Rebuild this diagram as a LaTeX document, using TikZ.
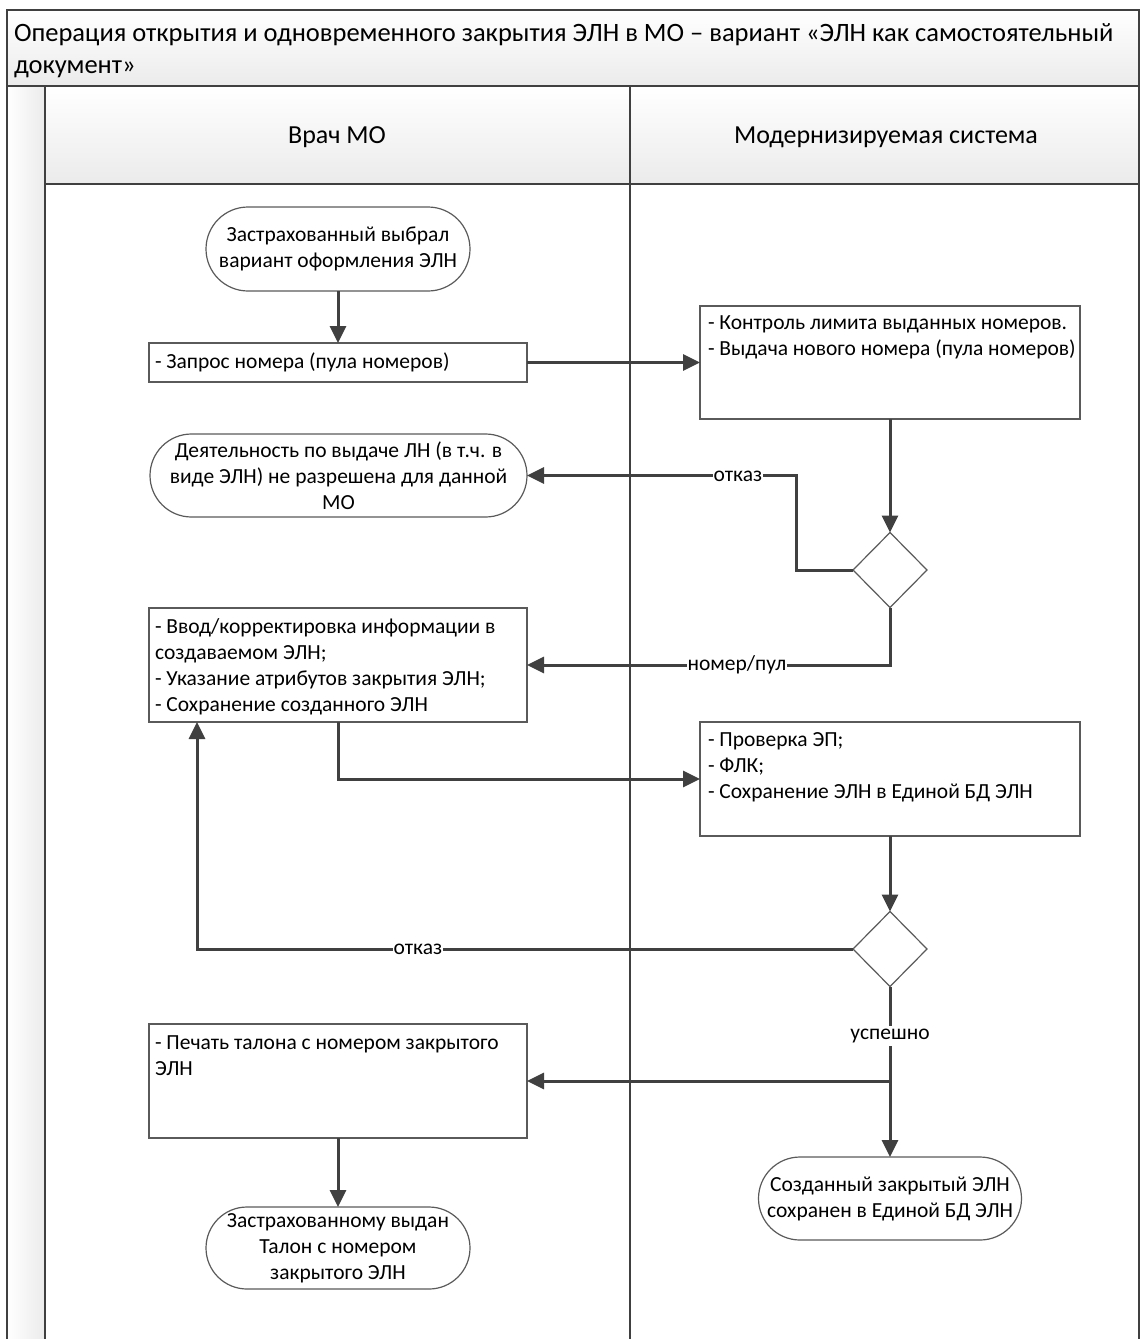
\documentclass[tikz,border=0pt]{standalone}
\usepackage{fontspec}
\setmainfont{Carlito}
\usetikzlibrary{shapes.geometric,shapes.misc,arrows.meta,calc}
\definecolor{ln}{HTML}{404040}
\definecolor{bd}{HTML}{5A5A5A}
\definecolor{shadeg}{HTML}{EBEBEB}
\begin{document}
\begin{tikzpicture}[x=1pt,y=-1pt,
  every node/.style={font=\fontsize{21.5}{26}\selectfont, inner sep=0pt, outer sep=0pt},
  term/.style={rounded rectangle, draw=bd, line width=1.2pt, fill=white, align=center},
  box/.style={rectangle, draw=bd, line width=1.2pt, fill=white},
  dec/.style={diamond, draw=bd, line width=1.2pt, fill=white, minimum width=74pt, minimum height=75pt},
  conn/.style={draw=ln, line width=3pt, -{Triangle[length=17pt,width=16pt]}},
  elab/.style={fill=white, inner xsep=1pt, inner ysep=3pt},
  txt/.style={align=left, anchor=north west},
  lane/.style={draw=ln, line width=2pt},
  hdr/.style={font=\fontsize{26}{30}\selectfont}
]
\useasboundingbox (0,0) rectangle (1140,1339);
% backgrounds
\shade[top color=white, bottom color=shadeg] (7,10) rectangle (1139,86);
\shade[top color=white, bottom color=shadeg] (45,86) rectangle (1139,184);
\shade[left color=white, right color=shadeg] (7,86) rectangle (45,1339);
% frame and lanes
\draw[lane] (7,1339) -- (7,10) -- (1139,10) -- (1139,1339);
\draw[lane] (7,86) -- (1139,86);
\draw[lane] (45,184) -- (1139,184);
\draw[draw=ln, line width=2.5pt] (45,86) -- (45,1339);
\draw[lane] (630,86) -- (630,1339);

\node[anchor=north west, align=left, font=\fontsize{26.5}{32}\selectfont] (title) at (14,24)
 {Операция открытия и одновременного закрытия ЭЛН в МО – вариант «ЭЛН как самостоятельный\\документ»};
\node[hdr] (h1) at (337,137) {Врач МО};
\node[hdr] (h2) at (886,137) {Модернизируемая система};

% nodes
\node[term, minimum width=264pt, minimum height=84pt] (s1) at (338,249) {Застрахованный выбрал\\вариант оформления ЭЛН};
\node[box, minimum width=378pt, minimum height=39pt] (r1) at (338,362.5) {};
\node[anchor=west] (r1t) at ($(r1.west)+(6,0)$) {- Запрос номера (пула номеров)};
\node[box, minimum width=380pt, minimum height=113pt] (b1) at (890,362.5) {};
\node[txt] (b1t) at ($(b1.north west)+(8,10)$) {- Контроль лимита выданных номеров.\\- Выдача нового номера (пула номеров)};
\node[dec] (d1) at (890,570) {};
\node[term, minimum width=377pt, minimum height=83pt] (s2) at (338.5,475.5) {Деятельность по выдаче ЛН (в т.ч. в\\виде ЭЛН) не разрешена для данной\\МО};
\node[box, minimum width=378pt, minimum height=114pt] (r3) at (338,665) {};
\node[txt] (r3t) at ($(r3.north west)+(6,11)$) {- Ввод/корректировка информации в\\создаваемом ЭЛН;\\- Указание атрибутов закрытия ЭЛН;\\- Сохранение созданного ЭЛН};
\node[box, minimum width=380pt, minimum height=114pt] (b2) at (890,779) {};
\node[txt] (b2t) at ($(b2.north west)+(8,11)$) {- Проверка ЭП;\\- ФЛК;\\- Сохранение ЭЛН в Единой БД ЭЛН};
\node[dec] (d2) at (890,949) {};
\node[box, minimum width=378pt, minimum height=114pt] (r4) at (338,1081) {};
\node[txt] (r4t) at ($(r4.north west)+(6,12)$) {- Печать талона с номером закрытого\\ЭЛН};
\node[term, minimum width=264pt, minimum height=82pt] (s3) at (338,1248) {Застрахованному выдан\\Талон с номером\\закрытого ЭЛН};
\node[term, minimum width=263pt, minimum height=83pt] (s4) at (890,1198.5) {Созданный закрытый ЭЛН\\сохранен в Единой БД ЭЛН};

% connectors
\draw[conn] (s1.south) -- (r1.north);
\draw[conn] (r1.east) -- (b1.west);
\draw[conn] (b1.south) -- (d1.north);
\coordinate (c1) at (796,570);
\draw[conn] (d1.west) -- (c1) |- (s2.east);
\node[elab] (l1) at (738,476) {отказ};
\draw[conn] (d1.south) |- (r3.east);
\node[elab] (l2) at (737,665) {номер/пул};
\draw[conn] (r3.south) |- (b2.west);
\draw[conn] (b2.south) -- (d2.north);
\coordinate (c2) at ($(r3.south west)+(48,0)$);
\draw[conn] (d2.west) -| (c2);
\node[elab] (l3) at (418,949) {отказ};
\draw[conn] (d2.south) -- (s4.north);
\node[elab] (l4) at (890,1036) {успешно};
\coordinate (j) at (d2.south |- r4.east);
\draw[conn] (j) -- (r4.east);
\draw[conn] (r4.south) -- (s3.north);
\end{tikzpicture}
\end{document}
